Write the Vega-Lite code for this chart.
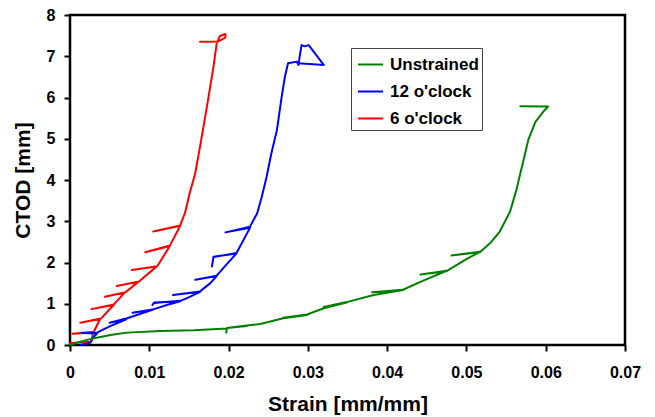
{
  "$schema": "https://vega.github.io/schema/vega-lite/v6.json",
  "autosize": {"type": "none"},
  "padding": {"left": 70, "top": 15, "right": 30, "bottom": 72},
  "width": 555,
  "height": 330,
  "background": "white",
  "config": {
    "view": {"stroke": "black", "strokeWidth": 2.5},
    "font": "Liberation Sans"
  },
  "datasets": {
    "curves": [
      {"s": "6 o'clock", "i": 1, "strain": 0, "ctod": 0.05},
      {"s": "6 o'clock", "i": 2, "strain": 0.0027, "ctod": 0.08},
      {"s": "6 o'clock", "i": 3, "strain": 0.0029, "ctod": 0.30},
      {"s": "6 o'clock", "i": 4, "strain": 0.0003, "ctod": 0.27},
      {"s": "6 o'clock", "i": 5, "strain": 0.0030, "ctod": 0.32},
      {"s": "6 o'clock", "i": 6, "strain": 0.0038, "ctod": 0.63},
      {"s": "6 o'clock", "i": 7, "strain": 0.0013, "ctod": 0.54},
      {"s": "6 o'clock", "i": 8, "strain": 0.0039, "ctod": 0.64},
      {"s": "6 o'clock", "i": 9, "strain": 0.0055, "ctod": 0.97},
      {"s": "6 o'clock", "i": 10, "strain": 0.0027, "ctod": 0.87},
      {"s": "6 o'clock", "i": 11, "strain": 0.0055, "ctod": 0.98},
      {"s": "6 o'clock", "i": 12, "strain": 0.0069, "ctod": 1.27},
      {"s": "6 o'clock", "i": 13, "strain": 0.0044, "ctod": 1.17},
      {"s": "6 o'clock", "i": 14, "strain": 0.0070, "ctod": 1.28},
      {"s": "6 o'clock", "i": 15, "strain": 0.0086, "ctod": 1.53},
      {"s": "6 o'clock", "i": 16, "strain": 0.0059, "ctod": 1.43},
      {"s": "6 o'clock", "i": 17, "strain": 0.0087, "ctod": 1.54},
      {"s": "6 o'clock", "i": 18, "strain": 0.0109, "ctod": 1.90},
      {"s": "6 o'clock", "i": 19, "strain": 0.0078, "ctod": 1.82},
      {"s": "6 o'clock", "i": 20, "strain": 0.0110, "ctod": 1.91},
      {"s": "6 o'clock", "i": 21, "strain": 0.0126, "ctod": 2.40},
      {"s": "6 o'clock", "i": 22, "strain": 0.0095, "ctod": 2.25},
      {"s": "6 o'clock", "i": 23, "strain": 0.0126, "ctod": 2.41},
      {"s": "6 o'clock", "i": 24, "strain": 0.0139, "ctod": 2.89},
      {"s": "6 o'clock", "i": 25, "strain": 0.0105, "ctod": 2.75},
      {"s": "6 o'clock", "i": 26, "strain": 0.0139, "ctod": 2.90},
      {"s": "6 o'clock", "i": 27, "strain": 0.0145, "ctod": 3.20},
      {"s": "6 o'clock", "i": 28, "strain": 0.0151, "ctod": 3.68},
      {"s": "6 o'clock", "i": 29, "strain": 0.0158, "ctod": 4.17},
      {"s": "6 o'clock", "i": 30, "strain": 0.0164, "ctod": 4.81},
      {"s": "6 o'clock", "i": 31, "strain": 0.0172, "ctod": 5.70},
      {"s": "6 o'clock", "i": 32, "strain": 0.0181, "ctod": 6.75},
      {"s": "6 o'clock", "i": 33, "strain": 0.0185, "ctod": 7.31},
      {"s": "6 o'clock", "i": 34, "strain": 0.0189, "ctod": 7.49},
      {"s": "6 o'clock", "i": 35, "strain": 0.0196, "ctod": 7.54},
      {"s": "6 o'clock", "i": 36, "strain": 0.0196, "ctod": 7.45},
      {"s": "6 o'clock", "i": 37, "strain": 0.0187, "ctod": 7.36},
      {"s": "6 o'clock", "i": 38, "strain": 0.0164, "ctod": 7.35},

      {"s": "12 o'clock", "i": 1, "strain": 0.0013, "ctod": 0.0},
      {"s": "12 o'clock", "i": 2, "strain": 0.0025, "ctod": 0.05},
      {"s": "12 o'clock", "i": 3, "strain": 0.0030, "ctod": 0.20},
      {"s": "12 o'clock", "i": 4, "strain": 0.0034, "ctod": 0.28},
      {"s": "12 o'clock", "i": 5, "strain": 0.0015, "ctod": 0.29},
      {"s": "12 o'clock", "i": 6, "strain": 0.0034, "ctod": 0.30},
      {"s": "12 o'clock", "i": 7, "strain": 0.0050, "ctod": 0.45},
      {"s": "12 o'clock", "i": 8, "strain": 0.0071, "ctod": 0.62},
      {"s": "12 o'clock", "i": 9, "strain": 0.0050, "ctod": 0.54},
      {"s": "12 o'clock", "i": 10, "strain": 0.0072, "ctod": 0.65},
      {"s": "12 o'clock", "i": 11, "strain": 0.0105, "ctod": 0.86},
      {"s": "12 o'clock", "i": 12, "strain": 0.0079, "ctod": 0.78},
      {"s": "12 o'clock", "i": 13, "strain": 0.0106, "ctod": 0.87},
      {"s": "12 o'clock", "i": 14, "strain": 0.0122, "ctod": 0.97},
      {"s": "12 o'clock", "i": 15, "strain": 0.0139, "ctod": 1.06},
      {"s": "12 o'clock", "i": 16, "strain": 0.0106, "ctod": 1.03},
      {"s": "12 o'clock", "i": 17, "strain": 0.0104, "ctod": 0.97},
      {"s": "12 o'clock", "i": 18, "strain": 0.0106, "ctod": 1.02},
      {"s": "12 o'clock", "i": 19, "strain": 0.0139, "ctod": 1.07},
      {"s": "12 o'clock", "i": 20, "strain": 0.0147, "ctod": 1.13},
      {"s": "12 o'clock", "i": 21, "strain": 0.0164, "ctod": 1.29},
      {"s": "12 o'clock", "i": 22, "strain": 0.0130, "ctod": 1.21},
      {"s": "12 o'clock", "i": 23, "strain": 0.0164, "ctod": 1.30},
      {"s": "12 o'clock", "i": 24, "strain": 0.0177, "ctod": 1.50},
      {"s": "12 o'clock", "i": 25, "strain": 0.0185, "ctod": 1.67},
      {"s": "12 o'clock", "i": 26, "strain": 0.0158, "ctod": 1.58},
      {"s": "12 o'clock", "i": 27, "strain": 0.0185, "ctod": 1.68},
      {"s": "12 o'clock", "i": 28, "strain": 0.0195, "ctod": 1.90},
      {"s": "12 o'clock", "i": 29, "strain": 0.0210, "ctod": 2.22},
      {"s": "12 o'clock", "i": 30, "strain": 0.0181, "ctod": 2.14},
      {"s": "12 o'clock", "i": 31, "strain": 0.0179, "ctod": 1.90},
      {"s": "12 o'clock", "i": 32, "strain": 0.0181, "ctod": 2.13},
      {"s": "12 o'clock", "i": 33, "strain": 0.0210, "ctod": 2.23},
      {"s": "12 o'clock", "i": 34, "strain": 0.0227, "ctod": 2.84},
      {"s": "12 o'clock", "i": 35, "strain": 0.0196, "ctod": 2.73},
      {"s": "12 o'clock", "i": 36, "strain": 0.0227, "ctod": 2.87},
      {"s": "12 o'clock", "i": 37, "strain": 0.0236, "ctod": 3.19},
      {"s": "12 o'clock", "i": 38, "strain": 0.0242, "ctod": 3.60},
      {"s": "12 o'clock", "i": 39, "strain": 0.0248, "ctod": 4.08},
      {"s": "12 o'clock", "i": 40, "strain": 0.0254, "ctod": 4.65},
      {"s": "12 o'clock", "i": 41, "strain": 0.0261, "ctod": 5.21},
      {"s": "12 o'clock", "i": 42, "strain": 0.0267, "ctod": 6.02},
      {"s": "12 o'clock", "i": 43, "strain": 0.0271, "ctod": 6.50},
      {"s": "12 o'clock", "i": 44, "strain": 0.0275, "ctod": 6.83},
      {"s": "12 o'clock", "i": 45, "strain": 0.0286, "ctod": 6.87},
      {"s": "12 o'clock", "i": 46, "strain": 0.0288, "ctod": 6.79},
      {"s": "12 o'clock", "i": 47, "strain": 0.0292, "ctod": 7.27},
      {"s": "12 o'clock", "i": 48, "strain": 0.0296, "ctod": 7.24},
      {"s": "12 o'clock", "i": 49, "strain": 0.0301, "ctod": 7.27},
      {"s": "12 o'clock", "i": 50, "strain": 0.0320, "ctod": 6.79},
      {"s": "12 o'clock", "i": 51, "strain": 0.0288, "ctod": 6.83},

      {"s": "Unstrained", "i": 1, "strain": 0, "ctod": 0},
      {"s": "Unstrained", "i": 2, "strain": 0.0013, "ctod": 0.08},
      {"s": "Unstrained", "i": 3, "strain": 0.0029, "ctod": 0.16},
      {"s": "Unstrained", "i": 4, "strain": 0.0051, "ctod": 0.24},
      {"s": "Unstrained", "i": 5, "strain": 0.0072, "ctod": 0.30},
      {"s": "Unstrained", "i": 6, "strain": 0.0114, "ctod": 0.34},
      {"s": "Unstrained", "i": 7, "strain": 0.0156, "ctod": 0.36},
      {"s": "Unstrained", "i": 8, "strain": 0.0198, "ctod": 0.40},
      {"s": "Unstrained", "i": 9, "strain": 0.0197, "ctod": 0.30},
      {"s": "Unstrained", "i": 10, "strain": 0.0198, "ctod": 0.41},
      {"s": "Unstrained", "i": 11, "strain": 0.0223, "ctod": 0.46},
      {"s": "Unstrained", "i": 12, "strain": 0.0200, "ctod": 0.42},
      {"s": "Unstrained", "i": 13, "strain": 0.0223, "ctod": 0.47},
      {"s": "Unstrained", "i": 14, "strain": 0.0240, "ctod": 0.51},
      {"s": "Unstrained", "i": 15, "strain": 0.0269, "ctod": 0.65},
      {"s": "Unstrained", "i": 16, "strain": 0.0299, "ctod": 0.73},
      {"s": "Unstrained", "i": 17, "strain": 0.0269, "ctod": 0.66},
      {"s": "Unstrained", "i": 18, "strain": 0.0299, "ctod": 0.74},
      {"s": "Unstrained", "i": 19, "strain": 0.0320, "ctod": 0.89},
      {"s": "Unstrained", "i": 20, "strain": 0.0349, "ctod": 1.03},
      {"s": "Unstrained", "i": 21, "strain": 0.0320, "ctod": 0.92},
      {"s": "Unstrained", "i": 22, "strain": 0.0349, "ctod": 1.04},
      {"s": "Unstrained", "i": 23, "strain": 0.0383, "ctod": 1.21},
      {"s": "Unstrained", "i": 24, "strain": 0.0420, "ctod": 1.33},
      {"s": "Unstrained", "i": 25, "strain": 0.0381, "ctod": 1.28},
      {"s": "Unstrained", "i": 26, "strain": 0.0420, "ctod": 1.34},
      {"s": "Unstrained", "i": 27, "strain": 0.0442, "ctod": 1.53},
      {"s": "Unstrained", "i": 28, "strain": 0.0475, "ctod": 1.80},
      {"s": "Unstrained", "i": 29, "strain": 0.0442, "ctod": 1.71},
      {"s": "Unstrained", "i": 30, "strain": 0.0475, "ctod": 1.79},
      {"s": "Unstrained", "i": 31, "strain": 0.0500, "ctod": 2.08},
      {"s": "Unstrained", "i": 32, "strain": 0.0517, "ctod": 2.26},
      {"s": "Unstrained", "i": 33, "strain": 0.0481, "ctod": 2.17},
      {"s": "Unstrained", "i": 34, "strain": 0.0517, "ctod": 2.25},
      {"s": "Unstrained", "i": 35, "strain": 0.0530, "ctod": 2.47},
      {"s": "Unstrained", "i": 36, "strain": 0.0542, "ctod": 2.75},
      {"s": "Unstrained", "i": 37, "strain": 0.0555, "ctod": 3.23},
      {"s": "Unstrained", "i": 38, "strain": 0.0563, "ctod": 3.76},
      {"s": "Unstrained", "i": 39, "strain": 0.0570, "ctod": 4.32},
      {"s": "Unstrained", "i": 40, "strain": 0.0578, "ctod": 4.97},
      {"s": "Unstrained", "i": 41, "strain": 0.0587, "ctod": 5.41},
      {"s": "Unstrained", "i": 42, "strain": 0.0597, "ctod": 5.66},
      {"s": "Unstrained", "i": 43, "strain": 0.0603, "ctod": 5.78},
      {"s": "Unstrained", "i": 44, "strain": 0.0568, "ctod": 5.79}
    ]
  },
  "data": {"name": "curves"},
  "mark": {"type": "line", "strokeWidth": 2, "strokeJoin": "round", "strokeCap": "round"},
  "encoding": {
    "x": {
      "field": "strain", "type": "quantitative",
      "scale": {"domain": [0, 0.07], "nice": false, "zero": false},
      "axis": {
        "title": "Strain [mm/mm]", "values": [0, 0.01, 0.02, 0.03, 0.04, 0.05, 0.06, 0.07],
        "format": "~g", "grid": false, "domain": false,
        "tickColor": "black", "tickWidth": 2, "tickSize": 6,
        "labelFont": "Liberation Sans", "labelFontWeight": "bold", "labelFontSize": 16, "labelColor": "black",
        "labelPadding": 13, "labelFlush": false,
        "titleFont": "Liberation Sans", "titleFontWeight": "bold", "titleFontSize": 21, "titleColor": "black",
        "titlePadding": 13
      }
    },
    "y": {
      "field": "ctod", "type": "quantitative",
      "scale": {"domain": [0, 8], "nice": false},
      "axis": {
        "title": "CTOD [mm]", "values": [0, 1, 2, 3, 4, 5, 6, 7, 8],
        "grid": false, "domain": false,
        "tickColor": "black", "tickWidth": 2, "tickSize": 6,
        "labelFont": "Liberation Sans", "labelFontWeight": "bold", "labelFontSize": 16, "labelColor": "black",
        "labelPadding": 9, "labelFlush": false,
        "titleFont": "Liberation Sans", "titleFontWeight": "bold", "titleFontSize": 21, "titleColor": "black",
        "titlePadding": 13
      }
    },
    "color": {
      "field": "s", "type": "nominal",
      "scale": {"domain": ["Unstrained", "12 o'clock", "6 o'clock"], "range": ["#008000", "#0000FF", "#FF0000"]},
      "legend": {
        "title": null, "orient": "none", "legendX": 281, "legendY": 33,
        "symbolType": "stroke", "symbolSize": 625, "symbolStrokeWidth": 2, "symbolOffset": 3,
        "labelFont": "Liberation Sans", "labelFontWeight": "bold", "labelFontSize": 17, "labelColor": "black",
        "labelOffset": 6, "rowPadding": 5,
        "padding": 3, "strokeColor": "#444", "fillColor": "white"
      }
    },
    "order": {"field": "i", "type": "quantitative"}
  }
}
